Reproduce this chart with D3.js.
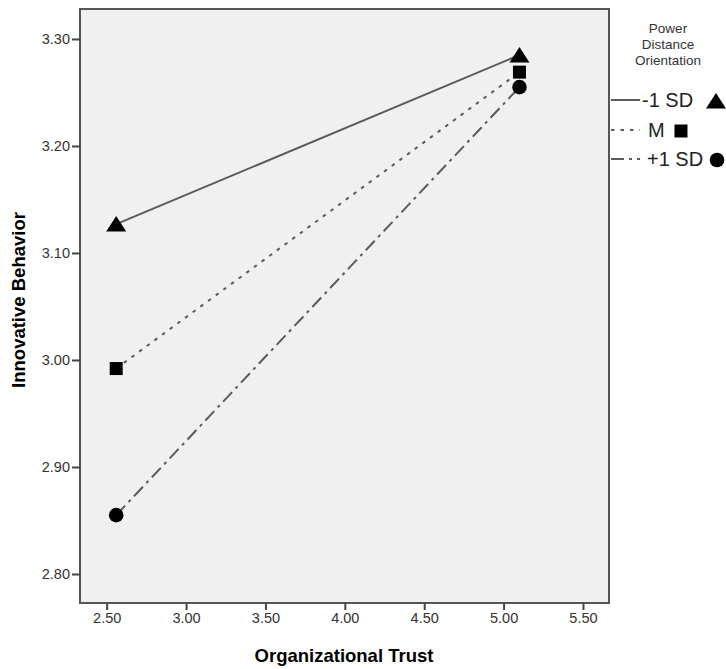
<!DOCTYPE html>
<html lang="en">

<head>
    <meta charset="UTF-8">
    <title>Innovative Behavior by Organizational Trust</title>

    <script src="https://d3js.org/d3.v7.min.js"></script>

    <style>
        body {
            margin: 0;
            background: #ffffff;
        }

        svg text {
            font-family: "Liberation Sans", Arial, sans-serif;
        }

        .tickText {
            font-size: 14.5px;
            fill: #333;
        }

        .axisTitle {
            font-size: 18.5px;
            font-weight: bold;
            fill: #000;
        }

        .legendTitle {
            font-size: 13.5px;
            fill: #333;
        }

        .legendText {
            font-size: 20px;
            fill: #222;
        }
    </style>

</head>

<body>
    <svg width="726" height="669"></svg>

    <script>
        // chart values
        const trustLevels = [2.56, 5.10];
        const groupNames = ["-1 SD", "M", "+1 SD"];
        const lowPDO = [3.127, 3.285];
        const meanPDO = [2.992, 3.269];
        const highPDO = [2.855, 3.255];
        const xTicks = [2.50, 3.00, 3.50, 4.00, 4.50, 5.00, 5.50];
        const yTicks = [2.80, 2.90, 3.00, 3.10, 3.20, 3.30];

        const groups = [
            { name: groupNames[0], values: lowPDO, dash: null, marker: "triangle" },
            { name: groupNames[1], values: meanPDO, dash: "3.5,6", marker: "square" },
            { name: groupNames[2], values: highPDO, dash: "13,5,3,5", marker: "circle" }
        ];

        const svgContainer = d3.select("svg");

        const plotLeft = 80, plotTop = 9, plotRight = 609, plotBottom = 603;

        const xScale = d3.scaleLinear()
            .domain([2.332, 5.664])
            .range([plotLeft, plotRight]);

        const yScale = d3.scaleLinear()
            .domain([2.7729, 3.328])
            .range([plotBottom, plotTop]);

        // plot background and frame
        svgContainer.append("rect")
            .attr("x", plotLeft)
            .attr("y", plotTop)
            .attr("width", plotRight - plotLeft)
            .attr("height", plotBottom - plotTop)
            .attr("fill", "#f0f0f0")
            .attr("stroke", "#555")
            .attr("stroke-width", 2);

        // axes
        const xAxis = d3.axisBottom(xScale)
            .tickValues(xTicks)
            .tickFormat(d3.format(".2f"))
            .tickSize(7)
            .tickSizeOuter(0)
            .tickPadding(3);

        const yAxis = d3.axisLeft(yScale)
            .tickValues(yTicks)
            .tickFormat(d3.format(".2f"))
            .tickSize(8)
            .tickSizeOuter(0)
            .tickPadding(2);

        const gx = svgContainer.append("g")
            .attr("transform", "translate(0," + plotBottom + ")")
            .call(xAxis);

        const gy = svgContainer.append("g")
            .attr("transform", "translate(" + plotLeft + ",0)")
            .call(yAxis);

        [gx, gy].forEach(function (g) {
            g.select(".domain").remove();
            g.selectAll(".tick line")
                .attr("stroke", "#444")
                .attr("stroke-width", 2);
            g.selectAll(".tick text")
                .attr("class", "tickText")
                .attr("font-size", null)
                .attr("font-family", null);
        });
        gx.attr("font-size", null).attr("font-family", null);
        gy.attr("font-size", null).attr("font-family", null);

        // axis titles
        svgContainer.append("text")
            .attr("class", "axisTitle")
            .attr("x", 344)
            .attr("y", 662)
            .attr("text-anchor", "middle")
            .text("Organizational Trust");

        svgContainer.append("text")
            .attr("class", "axisTitle")
            .attr("transform", "translate(25,300) rotate(-90)")
            .attr("text-anchor", "middle")
            .text("Innovative Behavior");

        // markers
        function markerPath(kind) {
            if (kind === "triangle") {
                return "M0,-8L10,7.5L-10,7.5Z";
            }
            if (kind === "square") {
                return "M-6.5,-6.5H6.5V6.5H-6.5Z";
            }
            return d3.symbol().type(d3.symbolCircle).size(Math.PI * 7.3 * 7.3)();
        }

        const lineGen = d3.line()
            .x(function (d, i) { return xScale(trustLevels[i]); })
            .y(function (d) { return yScale(d); });

        const lineGroup = svgContainer.append("g");
        groups.forEach(function (g) {
            lineGroup.append("path")
                .attr("d", lineGen(g.values))
                .attr("fill", "none")
                .attr("stroke", "#5a5a5a")
                .attr("stroke-width", 2)
                .attr("stroke-dasharray", g.dash);
        });

        groups.forEach(function (g) {
            svgContainer.append("g")
                .selectAll("path")
                .data(g.values)
                .enter()
                .append("path")
                .attr("transform", function (d, i) {
                    return "translate(" + xScale(trustLevels[i]) + "," + yScale(d) + ")";
                })
                .attr("d", markerPath(g.marker))
                .attr("fill", "#000");
        });

        // legend
        const legendTitle = svgContainer.append("text")
            .attr("class", "legendTitle")
            .attr("text-anchor", "middle");
        ["Power", "Distance", "Orientation"].forEach(function (t, i) {
            legendTitle.append("tspan")
                .attr("x", 668)
                .attr("y", 33 + i * 16)
                .text(t);
        });

        const legendRows = [100, 130, 159];
        const labelX = [642, 648, 647];
        const markerX = [716, 681, 717];
        groups.forEach(function (g, i) {
            const row = svgContainer.append("g")
                .attr("transform", "translate(0," + legendRows[i] + ")");
            row.append("line")
                .attr("x1", 611)
                .attr("x2", 640)
                .attr("stroke", "#5a5a5a")
                .attr("stroke-width", 2)
                .attr("stroke-dasharray", g.dash);
            row.append("text")
                .attr("class", "legendText")
                .attr("x", labelX[i])
                .attr("y", 7)
                .text(g.name);
            row.append("path")
                .attr("transform", "translate(" + markerX[i] + ",1)")
                .attr("d", markerPath(g.marker))
                .attr("fill", "#000");
        });
    </script>
</body>

</html>
